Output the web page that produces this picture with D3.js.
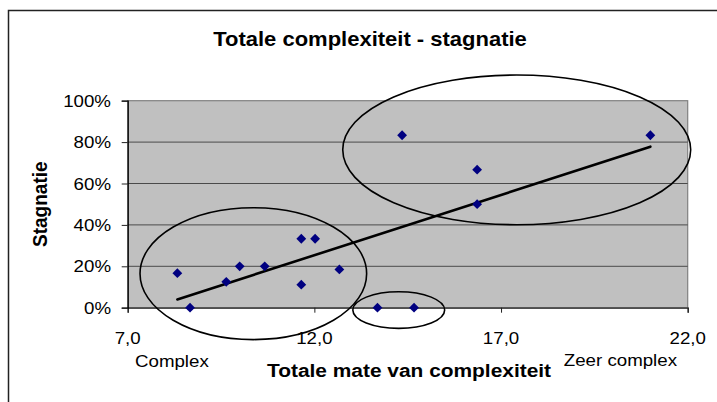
<!DOCTYPE html>
<html>
<head>
<meta charset="utf-8">
<script src="https://cdn.jsdelivr.net/npm/d3@7"></script>
<style>
  html, body { margin: 0; padding: 0; background: #fff; }
  svg text { font-family: "Liberation Sans", Arial, sans-serif; fill: #000; }
</style>
</head>
<body>
<svg id="chart" width="717" height="402"></svg>
<script>
// Total complexity score per case
const complexity = [8.33, 8.67, 9.64, 10.0, 10.67, 11.65, 12.02, 11.65, 12.67, 13.69, 14.67, 14.35, 21.0, 16.36, 16.36];
// Share of stagnation per case
const stagnation = [0.167, 0, 0.125, 0.2, 0.2, 0.333, 0.333, 0.111, 0.185, 0, 0, 0.833, 0.833, 0.667, 0.5];

const xTicks = [7, 12, 17, 22];
const yTicks = [0, 0.2, 0.4, 0.6, 0.8, 1.0];

// Groups circled on the chart, as [xMin, xMax, yMin, yMax] in data units
const groupNames = ["complex", "zeerComplex", "geenStagnatie"];
const groupX = [[7.33, 13.40], [12.76, 22.08], [13.03, 15.49]];
const groupY = [[-0.154, 0.483], [0.401, 1.124], [-0.100, 0.077]];

const titleText = "Totale complexiteit - stagnatie";
const xTitle = "Totale mate van complexiteit";
const yTitle = "Stagnatie";
const xEndLabels = ["Complex", "Zeer complex"];

const svg = d3.select("#chart");
const plot = { left: 127.7, right: 687.7, top: 100.7, bottom: 307.7 };

const x = d3.scaleLinear().domain([7, 22]).range([plot.left, plot.right]);
const y = d3.scaleLinear().domain([0, 1]).range([plot.bottom, plot.top]);

const fmtX = v => d3.format(".1f")(v).replace(".", ",");
const fmtY = d3.format(".0%");
const SX = 1.1; // horizontal stretch of the lettering

// Outer chart frame
svg.append("rect")
  .attr("x", 8.5).attr("y", 10.5)
  .attr("width", 740).attr("height", 420)
  .attr("fill", "#fff").attr("stroke", "#222").attr("stroke-width", 1.5);

// Plot background
svg.append("rect")
  .attr("x", plot.left).attr("y", plot.top)
  .attr("width", plot.right - plot.left).attr("height", plot.bottom - plot.top)
  .attr("fill", "#c0c0c0").attr("stroke", "#808080").attr("stroke-width", 1.2);

// Horizontal gridlines
svg.append("g").selectAll("line")
  .data(yTicks.filter(t => t > 0 && t < 1))
  .join("line")
  .attr("x1", plot.left).attr("x2", plot.right)
  .attr("y1", d => y(d)).attr("y2", d => y(d))
  .attr("stroke", "#4a4a4a").attr("stroke-width", 1);

// Axes
const xAxis = svg.append("g")
  .attr("transform", `translate(0,${plot.bottom})`)
  .call(d3.axisBottom(x).tickValues(xTicks).tickSize(5).tickFormat(""));
xAxis.select(".domain").attr("stroke", "#222").attr("stroke-width", 1.3);
xAxis.selectAll(".tick line").attr("stroke", "#222");

const yAxis = svg.append("g")
  .attr("transform", `translate(${plot.left},0)`)
  .call(d3.axisLeft(y).tickValues(yTicks).tickSize(6).tickFormat(""));
yAxis.select(".domain").attr("stroke", "#000").attr("stroke-width", 1.3);
yAxis.selectAll(".tick line").attr("stroke", "#222");

// Text helper: lettering is drawn with a slight horizontal stretch
function label(txt, px, py, anchor, size, weight, rotate) {
  const g = svg.append("g")
    .attr("transform", `translate(${px},${py}) scale(${SX},1)` + (rotate ? ` rotate(${rotate})` : ""));
  g.append("text")
    .attr("text-anchor", anchor)
    .attr("font-size", size)
    .attr("font-weight", weight || "normal")
    .text(txt);
  return g;
}

xTicks.forEach(t => label(fmtX(t), x(t), 344, "middle", 17));
yTicks.forEach(t => label(fmtY(t), 111, y(t) + 6, "end", 17));

label(xEndLabels[0], 135, 366.7, "start", 17);
label(xEndLabels[1], 677, 366, "end", 17);

// Titles
label(titleText, 370, 46, "middle", 20, "bold");
label(xTitle, 409, 377, "middle", 19, "bold");
label(yTitle, 47, (plot.top + plot.bottom) / 2, "middle", 19, "bold", -90);

// Linear trend line (least squares)
const mx = d3.mean(complexity), my = d3.mean(stagnation);
const sxy = d3.sum(complexity, (v, i) => (v - mx) * (stagnation[i] - my));
const sxx = d3.sum(complexity, v => (v - mx) ** 2);
const slope = sxy / sxx, icpt = my - slope * mx;
const xr = d3.extent(complexity);
svg.append("line")
  .attr("x1", x(xr[0])).attr("y1", y(icpt + slope * xr[0]))
  .attr("x2", x(xr[1])).attr("y2", y(icpt + slope * xr[1]))
  .attr("stroke", "#000").attr("stroke-width", 2.6).attr("stroke-linecap", "round");

// Data markers (diamonds)
const diamond = d3.symbol().type(d3.symbolSquare).size(48);
svg.append("g").selectAll("path")
  .data(complexity.map((c, i) => [c, stagnation[i]]))
  .join("path")
  .attr("d", diamond)
  .attr("transform", d => `translate(${x(d[0])},${y(d[1])}) rotate(45)`)
  .attr("fill", "#000080");

// Circled groups
svg.append("g").selectAll("ellipse")
  .data(groupNames.map((n, i) => ({ n, xs: groupX[i], ys: groupY[i] })))
  .join("ellipse")
  .attr("cx", d => (x(d.xs[0]) + x(d.xs[1])) / 2)
  .attr("cy", d => (y(d.ys[0]) + y(d.ys[1])) / 2)
  .attr("rx", d => (x(d.xs[1]) - x(d.xs[0])) / 2)
  .attr("ry", d => (y(d.ys[0]) - y(d.ys[1])) / 2)
  .attr("fill", "none").attr("stroke", "#000").attr("stroke-width", 1.6);
</script>
</body>
</html>
